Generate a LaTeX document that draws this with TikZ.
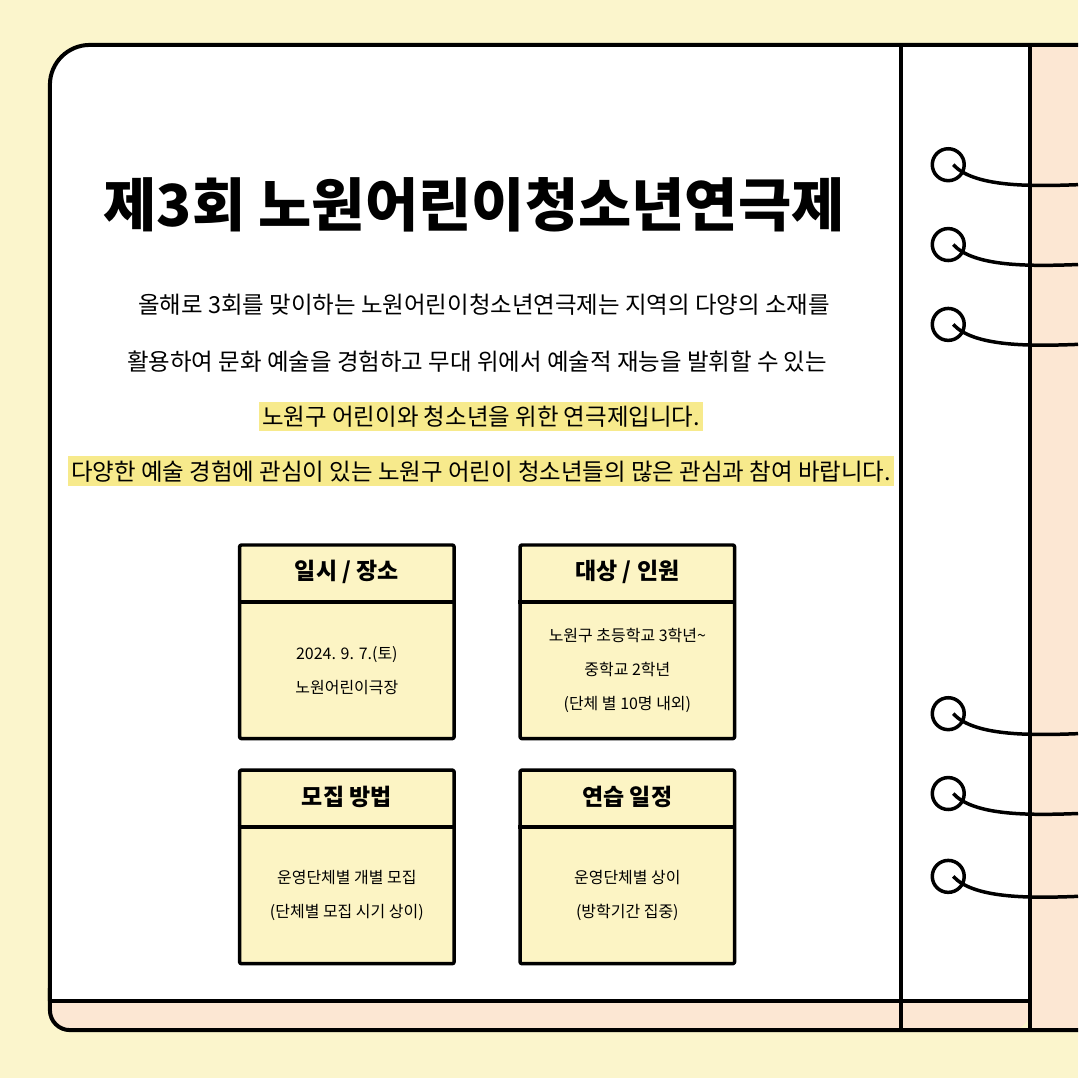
\documentclass[tikz,border=0pt]{standalone}
\usepackage{fontspec}
\setmainfont{Noto Sans CJK KR}
\usetikzlibrary{positioning}
\definecolor{bgyel}{HTML}{FBF5CC}
\definecolor{peach}{HTML}{FCE7D3}
\definecolor{boxyel}{HTML}{FCF4C4}
\definecolor{hil}{HTML}{F7EA8C}
\begin{document}
\begin{tikzpicture}[x=1pt,y=-1pt,line join=round]
\tikzset{
  ln/.style={line width=4pt,black},
  ring/.style={line width=3.5pt,black},
  body/.style={font=\fontsize{23.5}{23.5}\selectfont},
  hl/.style={body,fill=hil,inner xsep=3pt,inner ysep=4pt},
  card/.style={draw,line width=3.5pt,fill=boxyel,rounded corners=2pt,minimum width=215pt,minimum height=194pt},
  head/.style={font=\bfseries\fontsize{23}{23}\selectfont},
  info/.style={font=\fontsize{16}{34}\selectfont,align=center}
}
\fill[bgyel] (0,0) rectangle (1080,1080);
% notebook
\fill[peach] (1032,45) rectangle (1080,1032);
\fill[peach,rounded corners=20pt] (50,990) -- (50,1032) -- (1032,1032) -- (1032,990) -- cycle;
\fill[white] (50,1003) [rounded corners=40pt]-- (50,45) [sharp corners]-- (1032,45) -- (1032,1003) -- cycle;
\draw[ln,rounded corners=40pt] (1080,45) -- (50,45) -- (50,1003);
\draw[ln,rounded corners=20pt] (50,990) -- (50,1032) -- (1080,1032);
\draw[ln] (50,1003) -- (1032,1003);
\draw[ln] (903,45) -- (903,1032);
\draw[ln] (1032,45) -- (1032,1032);
% rings
\foreach \y in {165,245,325,715,795,878}{
  \draw[ring] (950,\y) circle (16);
  \draw[ring] (955,\y) .. controls (975,\y+22) and (1030,\y+22) .. (1080,\y+20);
}
% title and text
\node[font=\bfseries\fontsize{58}{58}\selectfont] (title) at (475,205) {제3회 노원어린이청소년연극제};
\node[body] (l1) at (485,305) {올해로 3회를 맞이하는 노원어린이청소년연극제는 지역의 다양의 소재를};
\node[body] (l2) at (478,362) {활용하여 문화 예술을 경험하고 무대 위에서 예술적 재능을 발휘할 수 있는};
\node[hl] (l3) at (482,417) {노원구 어린이와 청소년을 위한 연극제입니다.};
\node[hl] (l4) at (482,472) {다양한 예술 경험에 관심이 있는 노원구 어린이 청소년들의 많은 관심과 참여 바랍니다.};
% cards
\node[card] (c1) at (347.5,643) {};
\node[card] (c2) at (628.5,643) {};
\node[card] (c3) at (347.5,868.5) {};
\node[card] (c4) at (628.5,868.5) {};
\foreach \c/\t/\b in {c1/{일시 / 장소}/{2024. 9. 7.(토)\\노원어린이극장},
  c2/{대상 / 인원}/{노원구 초등학교 3학년\textasciitilde\\중학교 2학년\\(단체 별 10명 내외)},
  c3/{모집 방법}/{운영단체별 개별 모집\\(단체별 모집 시기 상이)},
  c4/{연습 일정}/{운영단체별 상이\\(방학기간 집중)}}{
  \draw[line width=3.5pt] ([yshift=-59pt]\c.north west) -- ([yshift=-59pt]\c.north east);
  \node[head] at ([yshift=-29pt]\c.north) {\t};
  \node[info] at ([yshift=-29pt]\c.center) {\b};
}
\end{tikzpicture}
\end{document}
